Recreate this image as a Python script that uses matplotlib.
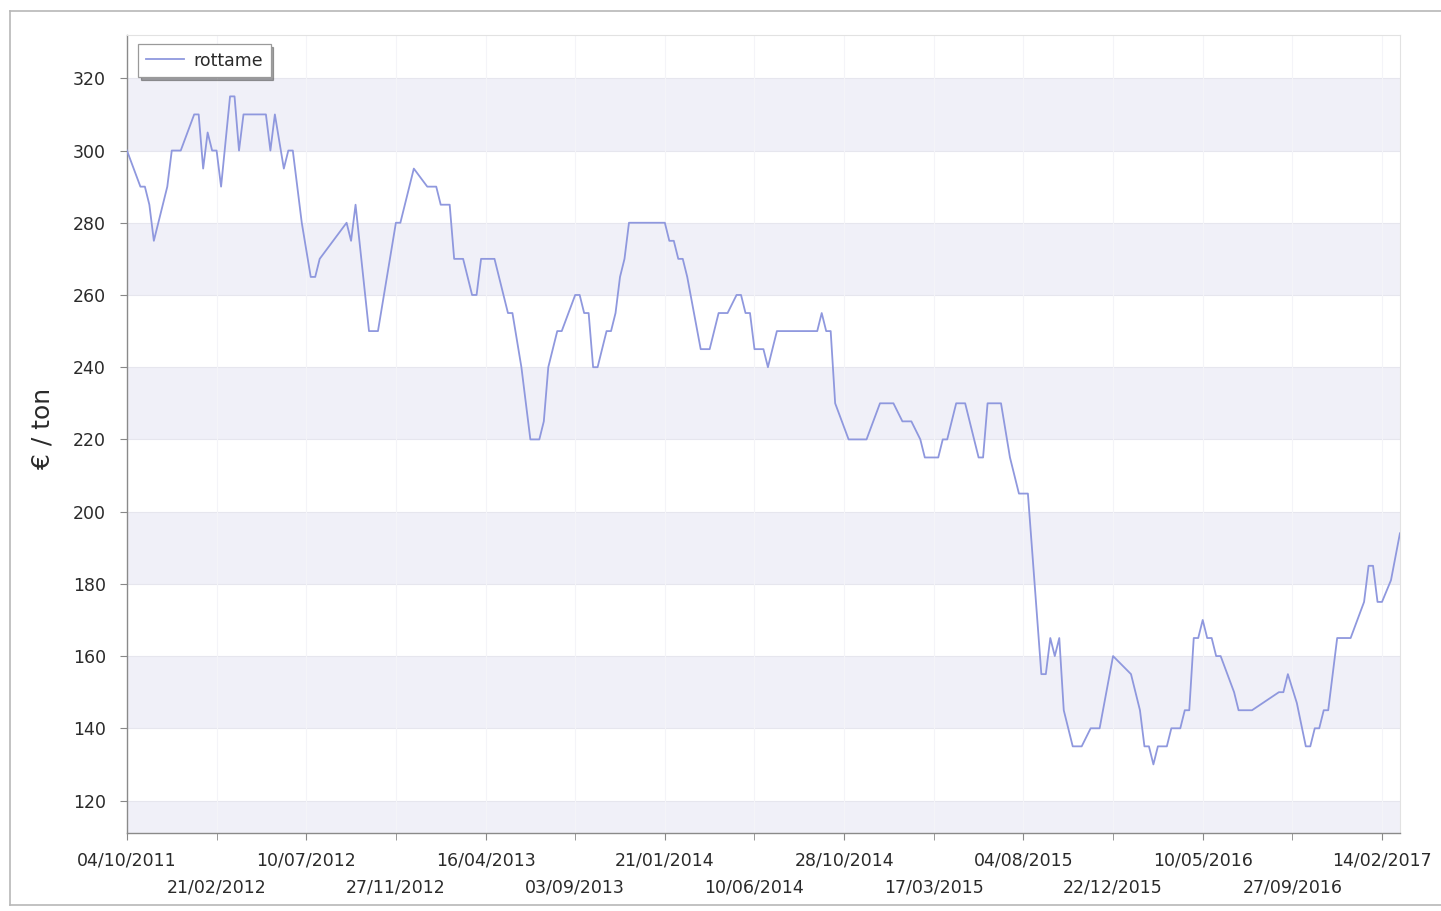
import pandas as pd
import matplotlib
matplotlib.use("Agg")
import matplotlib.pyplot as plt
import matplotlib.dates as mdates
from matplotlib.lines import Line2D

# --- Data (weekly scrap price) ----------------------------------------------
dates = [
    "2011-10-04", "2011-10-25", "2011-11-01", "2011-11-08", "2011-11-15",
    "2011-12-06", "2011-12-13", "2011-12-27", "2012-01-17", "2012-01-24",
    "2012-01-31", "2012-02-07", "2012-02-14", "2012-02-21", "2012-02-28",
    "2012-03-13", "2012-03-20", "2012-03-27", "2012-04-03", "2012-05-08",
    "2012-05-15", "2012-05-22", "2012-06-05", "2012-06-12", "2012-06-19",
    "2012-07-03", "2012-07-17", "2012-07-24", "2012-07-31", "2012-09-11",
    "2012-09-18", "2012-09-25", "2012-10-16", "2012-10-30", "2012-11-27",
    "2012-12-04", "2012-12-25", "2013-01-15", "2013-01-29", "2013-02-05",
    "2013-02-19", "2013-02-26", "2013-03-12", "2013-03-26", "2013-04-02",
    "2013-04-09", "2013-04-30", "2013-05-21", "2013-05-28", "2013-06-11",
    "2013-06-25", "2013-07-09", "2013-07-16", "2013-07-23", "2013-08-06",
    "2013-08-13", "2013-09-03", "2013-09-10", "2013-09-17", "2013-09-24",
    "2013-10-01", "2013-10-08", "2013-10-22", "2013-10-29", "2013-11-05",
    "2013-11-12", "2013-11-19", "2013-11-26", "2014-01-21", "2014-01-28",
    "2014-02-04", "2014-02-11", "2014-02-18", "2014-02-25", "2014-03-18",
    "2014-04-01", "2014-04-15", "2014-04-29", "2014-05-13", "2014-05-20",
    "2014-05-27", "2014-06-03", "2014-06-10", "2014-06-24", "2014-07-01",
    "2014-07-15", "2014-09-16", "2014-09-23", "2014-09-30", "2014-10-07",
    "2014-10-14", "2014-11-04", "2014-12-02", "2014-12-23", "2015-01-13",
    "2015-01-27", "2015-02-10", "2015-02-24", "2015-03-03", "2015-03-24",
    "2015-03-31", "2015-04-07", "2015-04-21", "2015-05-05", "2015-05-19",
    "2015-05-26", "2015-06-02", "2015-06-09", "2015-06-30", "2015-07-14",
    "2015-07-28", "2015-08-11", "2015-09-01", "2015-09-08", "2015-09-15",
    "2015-09-22", "2015-09-29", "2015-10-06", "2015-10-20", "2015-11-03",
    "2015-11-17", "2015-12-01", "2015-12-22", "2016-01-19", "2016-02-02",
    "2016-02-09", "2016-02-16", "2016-02-23", "2016-03-01", "2016-03-15",
    "2016-03-22", "2016-04-05", "2016-04-12", "2016-04-19", "2016-04-26",
    "2016-05-03", "2016-05-10", "2016-05-17", "2016-05-24", "2016-05-31",
    "2016-06-07", "2016-06-28", "2016-07-05", "2016-07-26", "2016-09-06",
    "2016-09-13", "2016-09-20", "2016-10-04", "2016-10-18", "2016-10-25",
    "2016-11-01", "2016-11-08", "2016-11-15", "2016-11-22", "2016-12-06",
    "2016-12-27", "2017-01-17", "2017-01-24", "2017-01-31", "2017-02-07",
    "2017-02-14", "2017-02-28", "2017-03-14",
]
prices = [
    300, 290, 290, 285, 275,
    290, 300, 300, 310, 310,
    295, 305, 300, 300, 290,
    315, 315, 300, 310, 310,
    300, 310, 295, 300, 300,
    280, 265, 265, 270, 280,
    275, 285, 250, 250, 280,
    280, 295, 290, 290, 285,
    285, 270, 270, 260, 260,
    270, 270, 255, 255, 240,
    220, 220, 225, 240, 250,
    250, 260, 260, 255, 255,
    240, 240, 250, 250, 255,
    265, 270, 280, 280, 275,
    275, 270, 270, 265, 245,
    245, 255, 255, 260, 260,
    255, 255, 245, 245, 240,
    250, 250, 255, 250, 250,
    230, 220, 220, 230, 230,
    225, 225, 220, 215, 215,
    220, 220, 230, 230, 220,
    215, 215, 230, 230, 215,
    205, 205, 155, 155, 165,
    160, 165, 145, 135, 135,
    140, 140, 160, 155, 145,
    135, 135, 130, 135, 135,
    140, 140, 145, 145, 165,
    165, 170, 165, 165, 160,
    160, 150, 145, 145, 150,
    150, 155, 147, 135, 135,
    140, 140, 145, 145, 165,
    165, 175, 185, 185, 175,
    175, 181, 194,
]
tick_dates = [
    "04/10/2011", "21/02/2012", "10/07/2012", "27/11/2012", "16/04/2013",
    "03/09/2013", "21/01/2014", "10/06/2014", "28/10/2014", "17/03/2015",
    "04/08/2015", "22/12/2015", "10/05/2016", "27/09/2016", "14/02/2017",
]
y_ticks = [120, 140, 160, 180, 200, 220, 240, 260, 280, 300, 320]
series_name = "rottame"
y_label = "€ / ton"

# --- Styling ----------------------------------------------------------------
LINE_COLOR = "#8f98de"
BAND_COLOR = "#f0f0f8"
TEXT_COLOR = "#2a2a2a"

x = pd.to_datetime(dates)
ticks = pd.to_datetime(tick_dates, format="%d/%m/%Y")

fig = plt.figure(figsize=(14.41, 9.11), dpi=100)
ax = fig.add_axes([0.0881, 0.0856, 0.8834, 0.876])

# alternating shaded bands between the horizontal gridlines
ymin, ymax = 111, 332
ax.axhspan(ymin, 120, color=BAND_COLOR, zorder=0, lw=0)
for lo in range(140, 320, 40):
    ax.axhspan(lo, lo + 20, color=BAND_COLOR, zorder=0, lw=0)
for yt in y_ticks:
    ax.axhline(yt, color="#e6e6ee", lw=0.8, zorder=0.5)
for t in ticks:
    ax.axvline(t, color="#f4f4f8", lw=0.8, zorder=0.5)

ax.plot(x, prices, color=LINE_COLOR, lw=1.3, label=series_name, zorder=3)

ax.set_ylim(ymin, ymax)
ax.set_xlim(x[0], x[-1])
ax.set_yticks(y_ticks)
ax.tick_params(axis="y", labelsize=12.5, labelcolor=TEXT_COLOR, length=5,
               color="#888888", pad=10)

# two rows of date labels: even ticks on top row, odd ticks below
ax.set_xticks(ticks[::2])
ax.set_xticks(ticks[1::2], minor=True)
fmt = mdates.DateFormatter("%d/%m/%Y")
ax.xaxis.set_major_formatter(fmt)
ax.xaxis.set_minor_formatter(fmt)
ax.tick_params(axis="x", which="major", labelsize=12.5, labelcolor=TEXT_COLOR,
               length=5, color="#888888", pad=8)
ax.tick_params(axis="x", which="minor", labelsize=12.5, labelcolor=TEXT_COLOR,
               length=5, color="#888888", pad=28)

for side in ["left", "bottom"]:
    ax.spines[side].set_color("#8a8a8a")
    ax.spines[side].set_linewidth(1.0)
for side in ["top", "right"]:
    ax.spines[side].set_color("#e2e2e2")
    ax.spines[side].set_linewidth(0.8)

fig.text(42 / 1441, 1 - 428 / 911, y_label, rotation=90, fontsize=18,
         color=TEXT_COLOR, ha="center", va="center")

leg = ax.legend(loc="upper left", bbox_to_anchor=(0.009, 0.989),
                borderaxespad=0, fontsize=12.5, frameon=True, fancybox=False,
                shadow=True, framealpha=1, handlelength=2.2,
                borderpad=0.45, handletextpad=0.5)
leg.get_frame().set_edgecolor("#9a9a9a")
leg.get_frame().set_linewidth(0.9)
for txt in leg.get_texts():
    txt.set_color(TEXT_COLOR)

# faint scan border around the whole chart
border = dict(color="#b8b8b8", lw=1.2, transform=fig.transFigure)
fig.add_artist(Line2D([10 / 1441, 1], [1 - 11 / 911, 1 - 11 / 911], **border))
fig.add_artist(Line2D([10 / 1441, 10 / 1441], [1 - 905 / 911, 1 - 11 / 911], **border))
fig.add_artist(Line2D([10 / 1441, 1], [1 - 905 / 911, 1 - 905 / 911], **border))

fig.savefig("out.png", dpi=100, facecolor="white")
